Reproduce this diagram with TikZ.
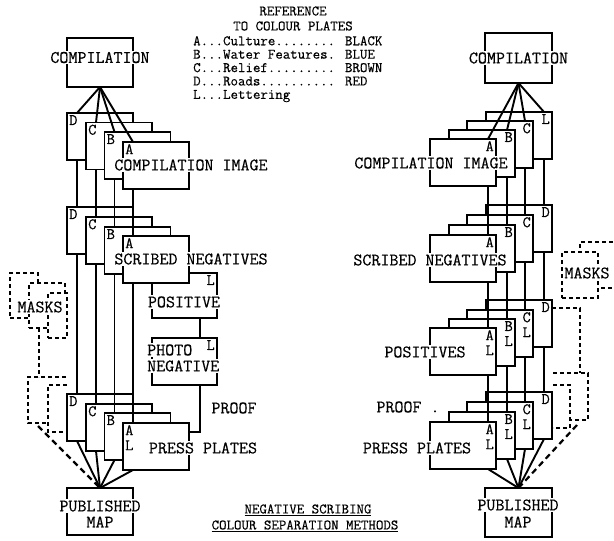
\documentclass[tikz,border=0pt]{standalone}
\usepackage{fontspec}
\setmainfont{Latin Modern Mono}[FakeBold=0.4]
\usetikzlibrary{calc}

\newcommand{\labfont}{\fontsize{17.5}{16}\selectfont}
\newcommand{\keyfont}{\fontsize{14.5}{13.4}\selectfont}

\begin{document}
\begin{tikzpicture}[x=1pt, y=-1pt,
  box/.style={draw, line width=1.3pt, anchor=north west, inner sep=0pt, outer sep=0pt},
  plate/.style={box, fill=white, minimum width=66pt, minimum height=47pt},
  tagl/.style={anchor=north west, inner sep=2pt, align=center, font=\fontsize{16}{15}\selectfont},
  tagr/.style={anchor=north east, inner sep=2pt, align=center, font=\fontsize{16}{15}\selectfont},
  lbl/.style={fill=white, inner sep=1pt, align=center, font=\labfont},
  feed/.style={line width=1.9pt},
  maskbox/.style={box, fill=white, dash pattern=on 4pt off 3pt, minimum height=45pt},
  maskline/.style={line width=1.4pt, dash pattern=on 4pt off 3pt},
  maskfeed/.style={line width=2.2pt, dash pattern=on 6pt off 4pt}]

  \useasboundingbox (0,0) rectangle (614,541);
  \clip (0,0) rectangle (614,541);

  % key to the colour plates
  \node[font=\fontsize{14.5}{15}\selectfont, align=center, inner sep=0pt] (keyhead) at (293,18.5) {REFERENCE\\TO COLOUR PLATES};
  \node[font=\keyfont, align=left, anchor=north west, inner sep=0pt] (key) at (193,36) {%
    A...Culture........ BLACK\\
    B...Water Features. BLUE\\
    C...Relief......... BROWN\\
    D...Roads.......... RED\\
    L...Lettering};

  % ---- left: negative scribing ----
  \node[box, minimum width=66pt, minimum height=49pt] (lcomp) at (67,38) {};

  \foreach \p/\x/\y in {D/67/113, C/86/122.5, B/104.5/132, A/123/142}
    \node[plate, label={[tagl]north west:\p}] (l1\p) at (\x,\y) {};

  \node[plate, minimum width=65pt, minimum height=45pt, label={[tagr]north east:L}] (lpos) at (152,273) {};
  \node[plate, minimum width=65pt, label={[tagr]north east:L}] (lneg) at (152,338) {};

  \foreach \p/\x/\y in {D/67/207, C/86/217, B/104.5/227, A/123/236}
    \node[plate, label={[tagl]north west:\p}] (l2\p) at (\x,\y) {};

  % masks
  \node[maskbox, minimum width=28pt] (lm1) at (10,273) {};
  \node[maskbox, minimum width=36pt] (lm2) at (29,283) {};
  \node[maskbox, minimum width=19pt] (lm3) at (48,293) {};
  \coordinate (lpm1) at (28,377);
  \coordinate (lpm2) at (48,385);
  \draw[maskline] ($(lpm1)+(38,0)$) -- (lpm1) -- ++(0,46) -- ++(20,0);
  \draw[maskline] ($(lpm2)+(19,0)$) -- (lpm2) -- ++(0,47) -- ++(19,0);

  \foreach \p/\x/\y/\t in {D/67/394/D, C/86/404/C, B/104.5/413/B, A/123/423/A\\L}
    \node[plate, label={[tagl]north west:\t}] (l3\p) at (\x,\y) {};

  \node[box, minimum width=66pt, minimum height=47pt] (lmap) at (67,488) {};

  \foreach \p in {D,C,B,A} {
    \draw[feed] (lcomp.south) -- ([xshift=10pt]l1\p.north west);
    \draw[feed] ([xshift=10pt]l1\p.south west) -- ([xshift=10pt]l2\p.north west);
    \draw[feed] ([xshift=10pt]l2\p.south west) -- ([xshift=10pt]l3\p.north west);
    \draw[feed] ([xshift=10pt]l3\p.south west) -- (lmap.north);
  }
  \draw[feed] ([xshift=-17pt]lpos.south east) -- ([xshift=-17pt]lneg.north east);
  \draw[feed] ([xshift=-17pt]lneg.south east) |- ([yshift=-9pt]l3A.north east);

  \draw[maskline] ([xshift=10pt]lm2.south west) -- ($(lpm1)+(11,0)$);
  \draw[maskfeed] ($(lpm1)+(10,49)$) -- (lmap.north);

  % ---- right ----
  \node[box, minimum width=67pt, minimum height=50pt] (rcomp) at (485,33) {};

  \foreach \p/\x/\y in {L/486/112, C/467/121, B/449/130, A/430/139}
    \node[plate, label={[tagr]north east:\p}] (r1\p) at (\x,\y) {};
  \foreach \p/\x/\y in {D/486/205, C/467/215, B/449/225, A/430/235}
    \node[plate, label={[tagr]north east:\p}] (r2\p) at (\x,\y) {};
  \foreach \p/\x/\y/\t in {D/486/300/D, C/467/310/C\\L, B/449/319/B\\L, A/430/328/A\\L}
    \node[plate, label={[tagr]north east:\t}] (r3\p) at (\x,\y) {};

  \node[maskbox, minimum width=60pt, minimum height=46pt] (rm1) at (580,242) {};
  \node[maskbox, minimum width=36pt, minimum height=46pt] (rm2) at (562,252) {};
  \coordinate (rpm1) at (588,373);
  \coordinate (rpm2) at (570,385);
  \draw[maskline] ($(rpm1)+(-35,0)$) -- (rpm1) -- ++(0,47) -- ++(-18,0);
  \draw[maskline] ($(rpm2)+(-17,0)$) -- (rpm2) -- ++(0,43) -- ++(-17,0);

  \foreach \p/\x/\y/\t in {D/486/392/D, C/467/402/C\\L, B/449/412/B\\L, A/430/422/A\\L}
    \node[plate, label={[tagr]north east:\t}] (r4\p) at (\x,\y) {};

  \node[box, minimum width=67pt, minimum height=49pt] (rmap) at (485,488) {};

  \foreach \p/\q in {A/A, B/B, C/C, L/D} {
    \draw[feed] (rcomp.south) -- ([xshift=-8pt]r1\p.north east);
    \draw[feed] ([xshift=-8pt]r1\p.south east) -- ([xshift=-8pt]r2\q.north east);
  }
  \foreach \p in {A,B,C,D} {
    \draw[feed] ([xshift=-8pt]r2\p.south east) -- ([xshift=-8pt]r3\p.north east);
    \draw[feed] ([xshift=-8pt]r3\p.south east) -- ([xshift=-8pt]r4\p.north east);
    \draw[feed] ([xshift=-8pt]r4\p.south east) -- (rmap.north);
  }
  \draw[maskline] ([yshift=-8pt]r3D.north east) -| ($(rpm1)+(-8,0)$);
  \draw[maskfeed] ($(rpm1)+(-11,52)$) -- (rmap.north);

  % typed labels
  \node[lbl] (lcompt) at ([yshift=5pt]lcomp.center) {COMPILATION};
  \node[lbl] (limg) at (191,165) {COMPILATION IMAGE};
  \node[lbl] (lscr) at (191,259) {SCRIBED NEGATIVES};
  \node[lbl] (lpost) at (184,302) {POSITIVE};
  \node[lbl, anchor=west] (lnegt) at (146,350) {PHOTO};
  \node[lbl, anchor=west] (lnegu) at (146,366) {NEGATIVE};
  \node[lbl, fill=none] (lproof) at (234,408) {PROOF};
  \node[lbl] (lpress) at (203,448) {PRESS PLATES};
  \node[lbl] (lmapt) at (100,506) {PUBLISHED};
  \node[lbl, fill=none] (lmapm) at (100,522) {MAP};
  \node[lbl] (lmaskt) at (40,307) {MASKS};

  \node[lbl] (rcompt) at (rcomp.center) {COMPILATION};
  \node[lbl] (rimg) at (431,163) {COMPILATION IMAGE};
  \node[lbl] (rscr) at (430,260) {SCRIBED NEGATIVES};
  \node[lbl] (rpost) at (425,352) {POSITIVES};
  \node[lbl, fill=none] (rproof) at (408,407) {PROOF .};
  \node[lbl] (rpress) at (417,448) {PRESS PLATES};
  \node[lbl] (rmapt) at (518,505) {PUBLISHED};
  \node[lbl, fill=none] (rmapm) at (518,522) {MAP};
  \node[lbl] (rmaskt) at (587,273) {MASKS};

  % title
  \node[font=\fontsize{14.5}{15}\selectfont] (title1) at (308,510) {\underline{NEGATIVE SCRIBING}};
  \node[font=\fontsize{14.5}{15}\selectfont] (title2) at (305,526) {\underline{COLOUR SEPARATION METHODS}};
\end{tikzpicture}
\end{document}
